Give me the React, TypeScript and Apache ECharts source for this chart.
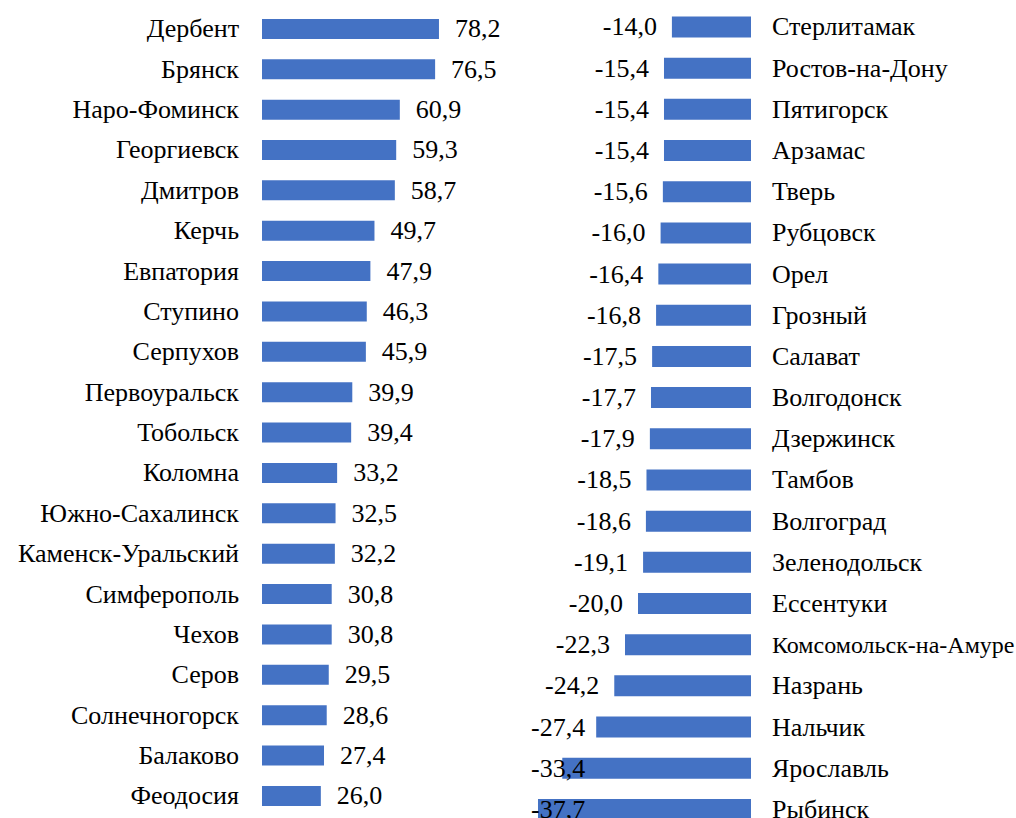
import React, { useEffect, useRef } from "react";
import * as echarts from "echarts";

const leftCities = [
  "Дербент", "Брянск", "Наро-Фоминск", "Георгиевск", "Дмитров", "Керчь", "Евпатория",
  "Ступино", "Серпухов", "Первоуральск", "Тобольск", "Коломна", "Южно-Сахалинск",
  "Каменск-Уральский", "Симферополь", "Чехов", "Серов", "Солнечногорск", "Балаково", "Феодосия",
];
const leftValues = [
  78.2, 76.5, 60.9, 59.3, 58.7, 49.7, 47.9, 46.3, 45.9, 39.9,
  39.4, 33.2, 32.5, 32.2, 30.8, 30.8, 29.5, 28.6, 27.4, 26.0,
];
const rightCities = [
  "Стерлитамак", "Ростов-на-Дону", "Пятигорск", "Арзамас", "Тверь", "Рубцовск", "Орел",
  "Грозный", "Салават", "Волгодонск", "Дзержинск", "Тамбов", "Волгоград", "Зеленодольск",
  "Ессентуки", "Комсомольск-на-Амуре", "Назрань", "Нальчик", "Ярославль", "Рыбинск",
];
const rightValues = [
  -14.0, -15.4, -15.4, -15.4, -15.6, -16.0, -16.4, -16.8, -17.5, -17.7,
  -17.9, -18.5, -18.6, -19.1, -20.0, -22.3, -24.2, -27.4, -33.4, -37.7,
];

const FONT = "Liberation Serif";
const BLUE = "#4472C4";
const fmt = (v: number) => v.toFixed(1).replace(".", ",");

export default function App() {
  const ref = useRef<HTMLDivElement>(null);
  useEffect(() => {
    if (!ref.current) return;
    const chart = echarts.init(ref.current, undefined, { renderer: "svg" });
    const hiddenX = {
      type: "value" as const,
      show: false,
      splitLine: { show: false },
    };
    const catAxis = {
      type: "category" as const,
      inverse: true,
      axisLine: { show: false },
      axisTick: { show: false },
      splitLine: { show: false },
    };
    // long names get a slightly smaller font so they fit in the page width
    const rightCatData = rightCities.map((c) =>
      c.length > 18 ? { value: c, textStyle: { fontSize: 24 } } : c
    );
    chart.setOption({
      animation: false,
      backgroundColor: "#ffffff",
      textStyle: { fontFamily: FONT },
      grid: [
        { left: 262, top: 8.7, width: 226.3, height: 807.4, outerBoundsMode: "none", containLabel: false },
        { left: 525, top: 6.4, width: 226, height: 823.6, outerBoundsMode: "none", containLabel: false },
      ],
      xAxis: [
        { ...hiddenX, gridIndex: 0, min: 0, max: 100 },
        { ...hiddenX, gridIndex: 1, min: -40, max: 0 },
      ],
      yAxis: [
        {
          ...catAxis,
          gridIndex: 0,
          position: "left",
          data: leftCities,
          axisLabel: { margin: 23, fontSize: 26, color: "#000", fontFamily: FONT },
        },
        {
          ...catAxis,
          gridIndex: 1,
          position: "right",
          data: rightCatData,
          axisLabel: { margin: 21, fontSize: 26, color: "#000", fontFamily: FONT },
        },
      ],
      series: [
        {
          type: "bar",
          xAxisIndex: 0,
          yAxisIndex: 0,
          data: leftValues,
          barWidth: 20,
          itemStyle: { color: BLUE },
          label: {
            show: true,
            position: "right",
            distance: 16,
            fontSize: 26,
            color: "#000",
            fontFamily: FONT,
            formatter: (p: any) => fmt(p.value),
          },
        },
        {
          type: "bar",
          xAxisIndex: 1,
          yAxisIndex: 1,
          data: rightValues,
          barWidth: 21,
          itemStyle: { color: BLUE },
          label: {
            show: true,
            position: "left",
            distance: 15,
            fontSize: 26,
            color: "#000",
            fontFamily: FONT,
            formatter: (p: any) => fmt(p.value),
          },
          labelLayout: (params: any) => {
            const r = params.labelRect;
            const minX = 531;
            return r && r.x < minX ? { dx: minX - r.x } : {};
          },
        },
      ],
    });
    return () => chart.dispose();
  }, []);
  return (
    <div
      ref={ref}
      style={{ position: "fixed", left: 0, top: 0, width: 1016, height: 818, background: "#fff" }}
    />
  );
}
